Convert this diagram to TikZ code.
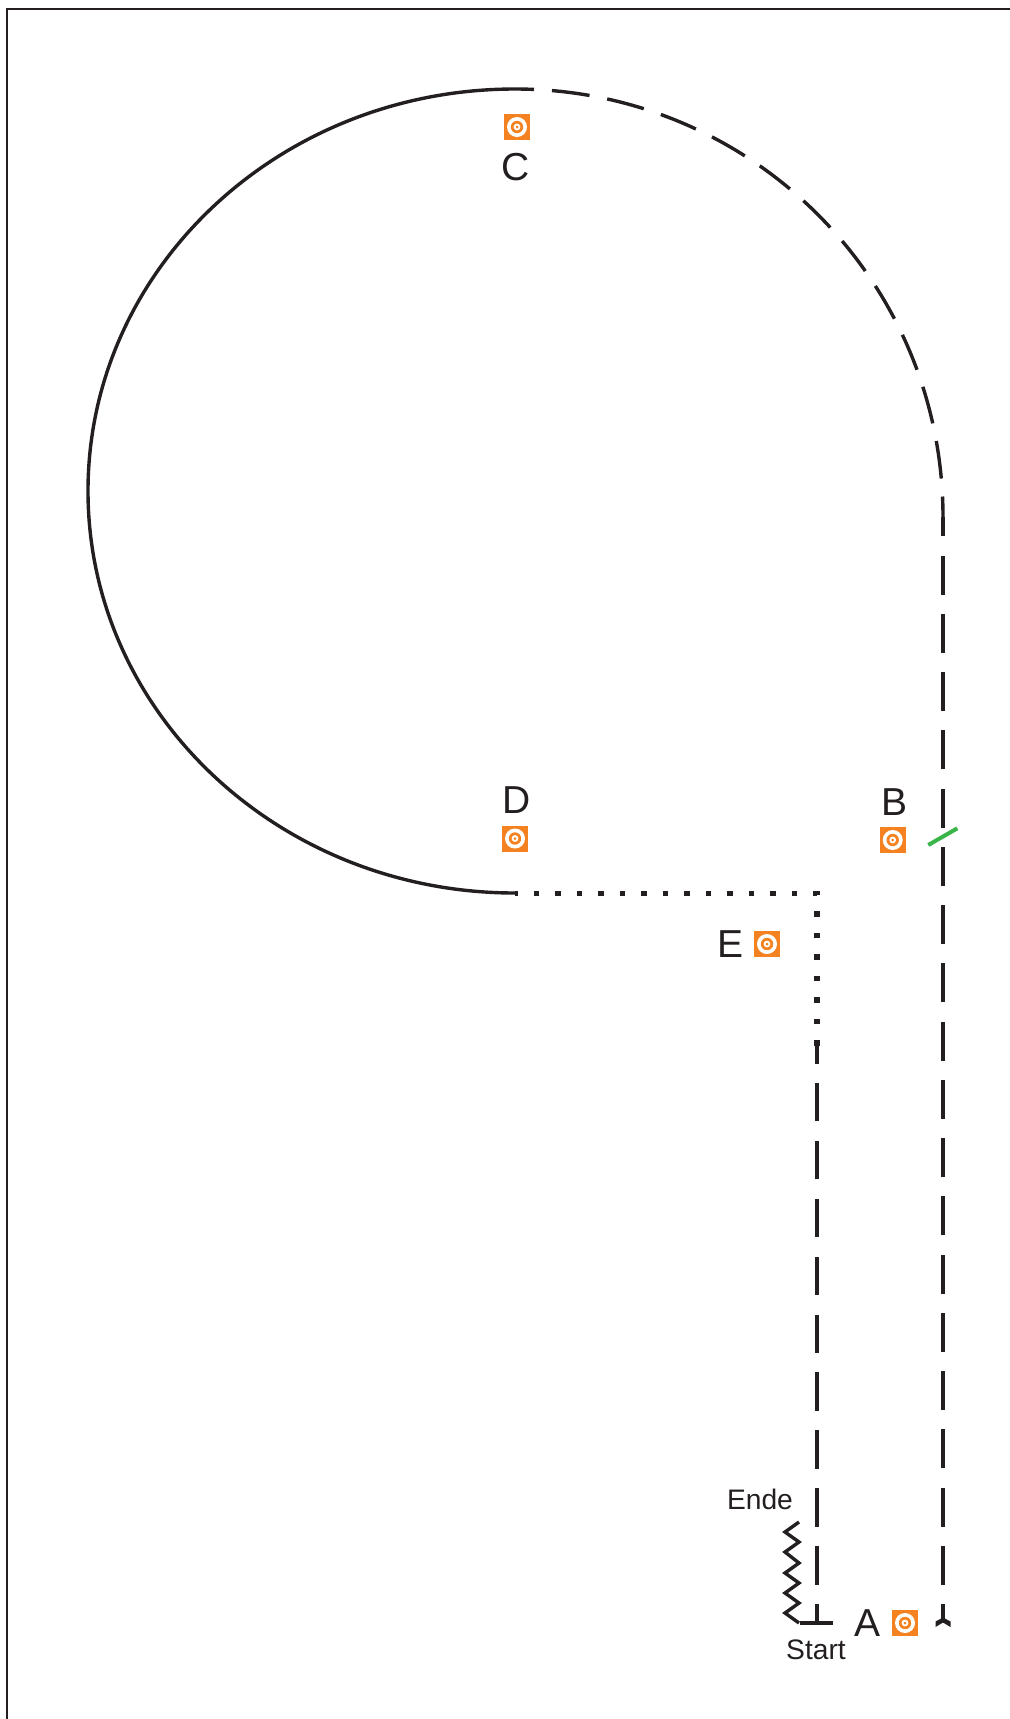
\documentclass[tikz,border=0pt]{standalone}
\usepackage{fontspec}
\setmainfont{Liberation Sans}
\definecolor{inkdark}{HTML}{231F20}
\definecolor{targetorange}{HTML}{F58220}
\definecolor{markgreen}{HTML}{39B54A}
\tikzset{
  target/.style={rectangle,fill=targetorange,minimum size=13pt,inner sep=0pt,
    path picture={
      \fill[white] (path picture bounding box.center) circle (5pt);
      \fill[targetorange] (path picture bounding box.center) circle (3.1pt);
      \fill[white] (path picture bounding box.center) circle (1.7pt);
      \fill[targetorange] (path picture bounding box.center) circle (0.75pt);
    }},
  biglabel/.style={inner sep=0pt,text=inkdark,font=\fontsize{19.5}{21}\selectfont},
  smalllabel/.style={inner sep=0pt,text=inkdark,font=\fontsize{14.1}{16}\selectfont},
  track/.style={draw=inkdark,line width=1.7pt},
  arcdash/.style={track,dash pattern=on 18.95pt off 9pt,dash phase=9.45pt},
  longdash/.style={track,dash pattern=on 19.5pt off 9.625pt,dash phase=10pt},
  shortdash/.style={track,dash pattern=on 19.25pt off 9.7pt,dash phase=9.75pt},
  dotline/.style={draw=inkdark,line width=2.75pt,dash pattern=on 2.75pt off 7.99pt}
}

\begin{document}
\begin{tikzpicture}[x=0.5pt,y=0.5pt]
  \useasboundingbox (0,0) rectangle (1010,-1719);

  \coordinate (frameTR) at (1010,-9);
  \coordinate (frameTL) at (7,-9);
  \coordinate (frameBL) at (7,-1719);
  \coordinate (top) at (515,-89);
  \coordinate (bottom) at (515,-893.5);
  \coordinate (corner) at (817,-893.5);
  \coordinate (dotend) at (817,-1045.5);
  \coordinate (start) at (817,-1623);
  \coordinate (barL) at (800,-1623);
  \coordinate (barR) at (833,-1623);
  \coordinate (goal) at (943,-1623);
  \coordinate (join) at (943,-517);
  \coordinate (greenA) at (928.3,-845);
  \coordinate (greenB) at (957.3,-828.3);

  \node[target] (targetA) at (905,-1623) {};
  \node[target] (targetB) at (892.7,-840) {};
  \node[target] (targetC) at (517,-127) {};
  \node[target] (targetD) at (515,-838.5) {};
  \node[target] (targetE) at (767,-944) {};

  \node[biglabel] (labelA) at (867,-1623) {A};
  \node[biglabel] (labelB) at (894,-802) {B};
  \node[biglabel] (labelC) at (516,-167) {C};
  \node[biglabel] (labelD) at (516.5,-800) {D};
  \node[biglabel] (labelE) at (730,-944.5) {E};
  \node[smalllabel] (ende) at (760,-1499) {Ende};
  \node[smalllabel] (startlabel) at (816,-1650) {Start};

  \draw[draw=inkdark,line width=1.1pt] (frameTR) -- (frameTL) -- (frameBL);

  \draw[track] (top) arc[start angle=90,end angle=270,x radius=213.5pt,y radius=201pt];
  \draw[arcdash] (top) arc[start angle=90,end angle=0,radius=214pt];
  \draw[longdash] (goal) -- (join);
  \draw[shortdash] (start) -- (dotend);
  \draw[dotline] (dotend) -- (corner) -- (bottom);

  \draw[track] (barL) -- (barR);
  \fill[inkdark] (935.5,-1627) -- (935.5,-1621.5) -- (943,-1617.5) -- (950.5,-1621.5)
    -- (950.5,-1627) -- (943,-1622.5) -- cycle;

  \draw[track,line join=miter] (799,-1623) -- (785,-1613) -- (799,-1603) -- (785,-1593)
    -- (799,-1583) -- (785,-1573) -- (799,-1563) -- (785,-1552) -- (799,-1542)
    -- (785,-1532) -- (799,-1522);

  \draw[draw=markgreen,line width=2pt] (greenA) -- (greenB);
\end{tikzpicture}
\end{document}
